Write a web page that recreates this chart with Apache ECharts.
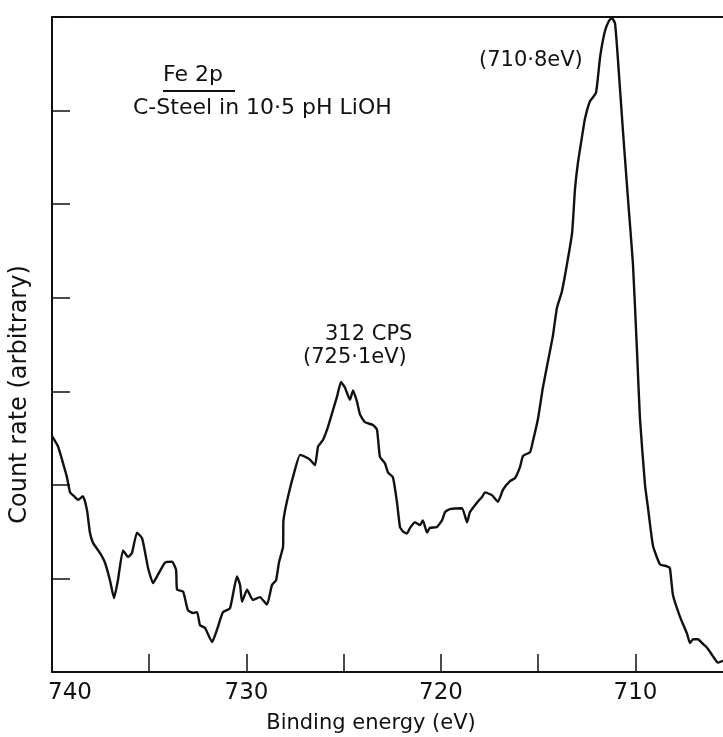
<!DOCTYPE html>
<html>
<head>
<meta charset="utf-8">
<script src="https://cdn.jsdelivr.net/npm/echarts@6.0.0/dist/echarts.min.js"></script>
<style>
  html, body { margin: 0; padding: 0; background: #fff; }
  #chart { width: 723px; height: 737px; }
</style>
</head>
<body>
<div id="chart"></div>
<script>
// binding energy (eV) from left to right
const energy = [
    740.00, 739.69, 739.43, 739.23, 739.07, 738.82, 738.66, 738.41, 738.20, 738.05,
    737.89, 737.53, 737.28, 737.02, 736.81, 736.61, 736.35, 736.09, 735.89, 735.63,
    735.37, 735.17, 735.06, 734.81, 734.55, 734.19, 733.83, 733.62, 733.57, 733.26,
    733.01, 732.75, 732.54, 732.39, 732.13, 731.77, 731.52, 731.21, 730.85, 730.49,
    730.33, 730.23, 729.97, 729.67, 729.31, 728.95, 728.69, 728.48, 728.33, 728.12,
    728.10, 727.87, 727.51, 727.25, 726.99, 726.74, 726.48, 726.32, 726.07, 725.81,
    725.55, 725.35, 725.14, 724.94, 724.68, 724.52, 724.32, 724.16, 723.91, 723.50,
    723.29, 723.14, 722.88, 722.72, 722.47, 722.26, 722.11, 721.95, 721.75, 721.59,
    721.34, 721.08, 720.93, 720.72, 720.57, 720.21, 719.95, 719.79, 719.54, 718.92,
    718.66, 718.51, 718.15, 717.89, 717.74, 717.38, 717.07, 716.81, 716.45, 716.20,
    715.94, 715.78, 715.42, 715.27, 715.01, 714.76, 714.50, 714.24, 714.04, 713.78,
    713.52, 713.26, 713.11, 712.96, 712.75, 712.60, 712.34, 712.03, 711.82, 711.57,
    711.36, 711.21, 711.05, 710.90, 710.64, 710.39, 710.13, 709.92, 709.77, 709.51,
    709.36, 709.10, 708.74, 708.38, 708.23, 708.07, 707.71, 707.35, 707.20, 707.04,
    706.79, 706.58, 706.32, 706.02, 705.76, 705.50
];

// count rate, in units of the left-axis tick spacing
const countRate = [
    2.52, 2.41, 2.23, 2.08, 1.92, 1.87, 1.84, 1.88, 1.73, 1.49,
    1.38, 1.27, 1.17, 0.98, 0.79, 0.98, 1.30, 1.23, 1.27, 1.49,
    1.43, 1.23, 1.11, 0.95, 1.04, 1.17, 1.18, 1.09, 0.88, 0.86,
    0.66, 0.63, 0.64, 0.50, 0.47, 0.32, 0.45, 0.64, 0.68, 1.02,
    0.93, 0.75, 0.88, 0.77, 0.80, 0.72, 0.93, 0.98, 1.17, 1.34,
    1.62, 1.87, 2.16, 2.32, 2.30, 2.27, 2.21, 2.41, 2.48, 2.62,
    2.80, 2.94, 3.10, 3.04, 2.91, 3.01, 2.89, 2.75, 2.67, 2.64,
    2.59, 2.30, 2.23, 2.13, 2.08, 1.81, 1.55, 1.50, 1.48, 1.54,
    1.60, 1.57, 1.62, 1.49, 1.54, 1.55, 1.62, 1.71, 1.74, 1.75,
    1.60, 1.71, 1.81, 1.87, 1.92, 1.89, 1.82, 1.95, 2.04, 2.07,
    2.19, 2.31, 2.35, 2.47, 2.71, 3.04, 3.32, 3.60, 3.89, 4.07,
    4.36, 4.69, 5.16, 5.44, 5.72, 5.91, 6.10, 6.19, 6.57, 6.85,
    6.96, 6.99, 6.93, 6.54, 5.77, 5.07, 4.36, 3.42, 2.71, 2.00,
    1.76, 1.35, 1.15, 1.13, 1.11, 0.82, 0.59, 0.41, 0.31, 0.35,
    0.35, 0.31, 0.26, 0.17, 0.10, 0.12
];

const xTicks = [735, 730, 725, 720, 715, 710];
const xLabels = [740, 730, 720, 710];
const xRange = [705.5, 740];
const yRange = [0, 7];

const ink = '#111';
const font = '"DejaVu Sans", sans-serif';

let chart = echarts.init(document.getElementById('chart'), null, { renderer: 'canvas' });

let option = {
    backgroundColor: '#fff',
    animation: false,
    grid: {
        left: 52,
        right: 0,
        top: 17,
        bottom: 65,
        containLabel: false,
        outerBoundsMode: 'none'
    },
    xAxis: [
        {
            type: 'value',
            min: xRange[0],
            max: xRange[1],
            inverse: true,
            name: 'Binding energy (eV)',
            nameLocation: 'middle',
            nameGap: 41,
            nameTextStyle: {
                color: ink,
                fontFamily: font,
                fontSize: 21,
                padding: [0, 33, 0, 0]
            },
            axisLine: { lineStyle: { color: ink, width: 2 } },
            axisTick: {
                inside: true,
                length: 18,
                customValues: xTicks,
                lineStyle: { color: ink, width: 1.5 }
            },
            axisLabel: {
                customValues: xLabels,
                color: ink,
                fontFamily: font,
                fontSize: 23,
                margin: 10,
                // the 740 label sits to the right of the corner
                formatter: (v) => v === xRange[1] ? '{first|' + v + '}' : String(v),
                rich: {
                    first: {
                        color: ink,
                        fontFamily: font,
                        fontSize: 23,
                        padding: [0, 0, 0, 36]
                    }
                }
            },
            splitLine: { show: false }
        },
        {
            // top frame line
            type: 'value',
            position: 'top',
            min: xRange[0],
            max: xRange[1],
            inverse: true,
            axisLine: { lineStyle: { color: ink, width: 2 } },
            axisTick: { show: false },
            axisLabel: { show: false },
            splitLine: { show: false }
        }
    ],
    yAxis: {
        type: 'value',
        min: yRange[0],
        max: yRange[1],
        interval: 1,
        name: 'Count rate (arbitrary)',
        nameLocation: 'middle',
        nameGap: 20,
        nameRotate: 90,
        nameTextStyle: {
            color: ink,
            fontFamily: font,
            fontSize: 24,
            padding: [0, 100, 0, 0]
        },
        axisLine: { show: true, lineStyle: { color: ink, width: 2 } },
        axisTick: {
            show: true,
            inside: true,
            length: 18,
            lineStyle: { color: ink, width: 1.5 }
        },
        axisLabel: { show: false },
        splitLine: { show: false }
    },
    series: [
        {
            type: 'line',
            data: energy.map((e, i) => [e, countRate[i]]),
            showSymbol: false,
            smooth: 0.15,
            lineStyle: { color: ink, width: 2.4 },
            clip: false
        }
    ],
    graphic: [
        {
            type: 'text',
            left: 163,
            top: 64,
            style: { text: 'Fe 2p', fill: ink, font: '22px ' + font }
        },
        {
            type: 'line',
            shape: { x1: 163, y1: 91, x2: 235, y2: 91 },
            style: { stroke: ink, lineWidth: 2 }
        },
        {
            type: 'text',
            left: 133,
            top: 97,
            style: { text: 'C-Steel in 10·5 pH LiOH', fill: ink, font: '22px ' + font }
        },
        {
            type: 'text',
            left: 479,
            top: 50,
            style: { text: '(710·8eV)', fill: ink, font: '21px ' + font }
        },
        {
            type: 'text',
            left: 325,
            top: 324,
            style: { text: '312 CPS', fill: ink, font: '21px ' + font }
        },
        {
            type: 'text',
            left: 303,
            top: 347,
            style: { text: '(725·1eV)', fill: ink, font: '21px ' + font }
        }
    ]
};

chart.setOption(option);
</script>
</body>
</html>
